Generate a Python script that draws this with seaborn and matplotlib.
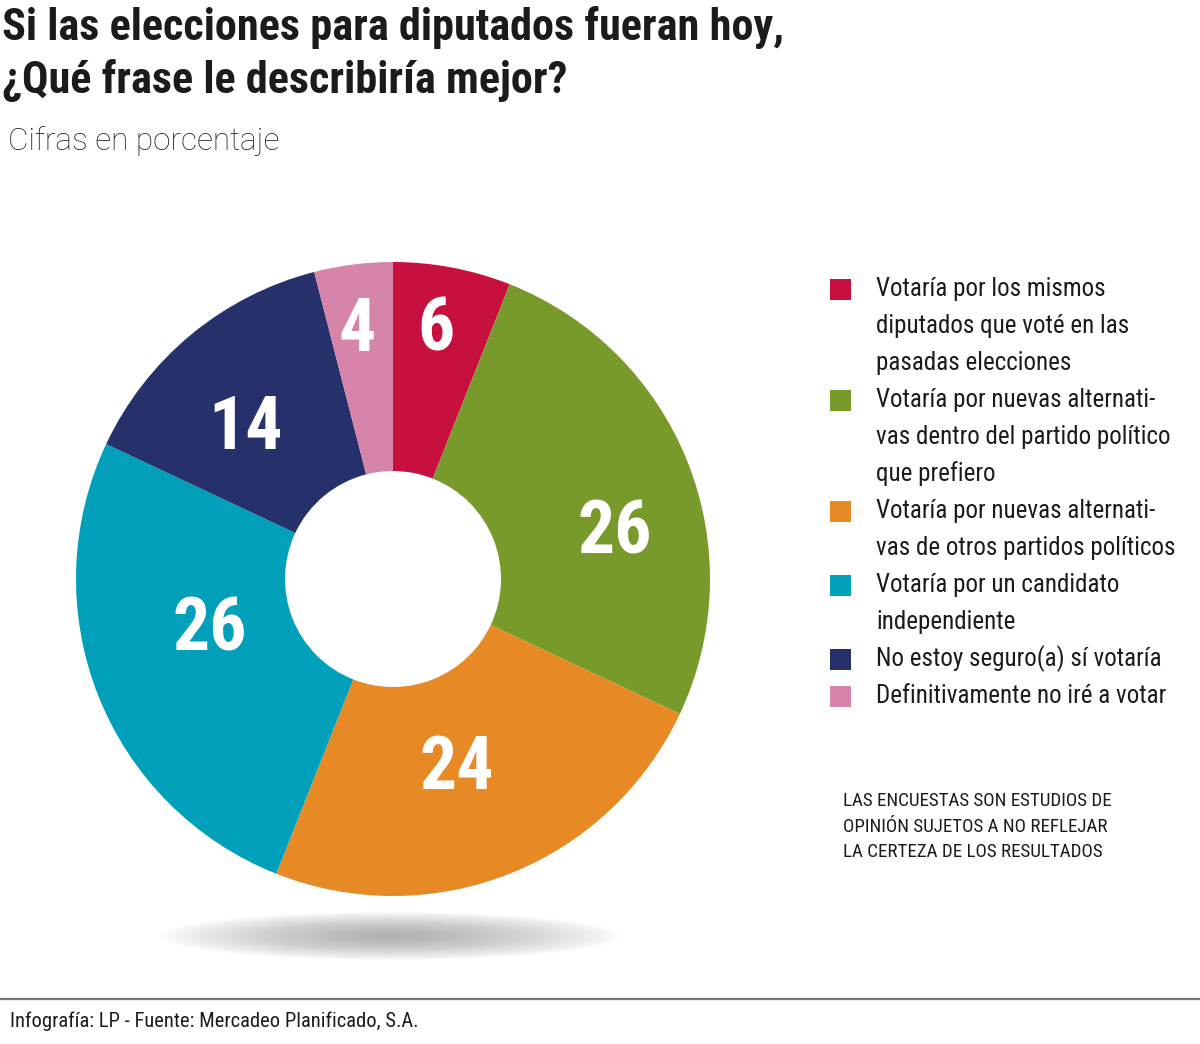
import matplotlib
matplotlib.use("Agg")
import matplotlib.pyplot as plt
from matplotlib.patches import Rectangle, Ellipse
from matplotlib import font_manager
import numpy as np
import seaborn as sns

# ---- data ----
categories = [
    "Votaría por los mismos\ndiputados que voté en las\npasadas elecciones",
    "Votaría por nuevas alternati-\nvas dentro del partido político\nque prefiero",
    "Votaría por nuevas alternati-\nvas de otros partidos políticos",
    "Votaría por un candidato\nindependiente",
    "No estoy seguro(a) sí votaría",
    "Definitivamente no iré a votar",
]
values = [6, 26, 24, 26, 14, 4]
value_labels = ["6", "26", "24", "26", "14", "4"]
colors = ["#C8103E", "#779A2B", "#E78A25", "#00A0BA", "#26316B", "#D784AA"]

title_lines = ["Si las elecciones para diputados fueran hoy,", "¿Qué frase le describiría mejor?"]
subtitle = "Cifras en porcentaje"
note_lines = ["LAS ENCUESTAS SON ESTUDIOS DE", "OPINIÓN SUJETOS A NO REFLEJAR", "LA CERTEZA DE LOS RESULTADOS"]
footer = "Infografía: LP - Fuente: Mercadeo Planificado, S.A."

sns.set_theme(style="white")
available = {f.name for f in font_manager.fontManager.ttflist}
cond = [f for f in ["Roboto Condensed", "Liberation Sans Narrow", "DejaVu Sans"] if f in available]
plt.rcParams["font.family"] = cond + ["DejaVu Sans"]
TXT = "#1b1b1b"

W, H = 1200, 1044
fig = plt.figure(figsize=(W / 100, H / 100), dpi=100)
fig.patch.set_facecolor("white")
ax = fig.add_axes([0, 0, 1, 1])

def Y(y):
    return H - y

# shadow under the donut
for i in range(30):
    f = 1 - i / 30
    ax.add_patch(Ellipse((390, Y(936)), 440 * f + 20, 44 * f + 4, facecolor="#9a9a9a",
                         edgecolor="none", alpha=0.035, zorder=1))

cx, cy, R, r_in = 393, 579, 317, 108
wedges, _ = ax.pie(values, colors=colors, startangle=90, counterclock=False,
                   center=(cx, Y(cy)), radius=R,
                   wedgeprops=dict(width=R - r_in, edgecolor="none"))
for w in wedges:
    w.set_zorder(3)

label_r = [252, 226, 200, 190, 210, 251]
ang_nudge = [1, -10, -3, -6, 5, 1]
for w, lab, rr, dn in zip(wedges, value_labels, label_r, ang_nudge):
    a = np.deg2rad((w.theta1 + w.theta2) / 2 + dn)
    ax.text(cx + rr * np.cos(a), Y(cy) + rr * np.sin(a), lab, color="white",
            fontsize=53, fontweight="bold", ha="center", va="center", zorder=5)

# titles
ax.text(2, Y(40), title_lines[0], fontsize=31.9, fontweight="bold", color=TXT, ha="left", va="baseline")
ax.text(2, Y(93), title_lines[1], fontsize=31.9, fontweight="bold", color=TXT, ha="left", va="baseline")
ax.text(8, Y(150), subtitle, fontsize=22.7, color="#222222", ha="left", va="baseline",
        family=["Roboto", "DejaVu Sans"], fontweight="light")

# legend
line_h = 37
y0 = 289
k = 0
for cat, col in zip(categories, colors):
    ax.add_patch(Rectangle((830, Y(y0 + k * line_h) - 10.5), 21, 21, facecolor=col, edgecolor="none"))
    for ln in cat.split("\n"):
        ax.text(876, Y(y0 + k * line_h), ln, fontsize=18, color=TXT, ha="left", va="center")
        k += 1

# note
for i, ln in enumerate(note_lines):
    ax.text(843, Y(801 + i * 25.5), ln, fontsize=13.7, color=TXT, ha="left", va="center")

# footer
ax.plot([0, W], [Y(999), Y(999)], color="#777777", lw=1.6)
ax.text(10, Y(1021), footer, fontsize=14.8, color=TXT, ha="left", va="center")

ax.set_xlim(0, W)
ax.set_ylim(0, H)
ax.set_aspect("equal", adjustable="box")
ax.axis("off")

fig.savefig("out.png", dpi=100, facecolor="white")
